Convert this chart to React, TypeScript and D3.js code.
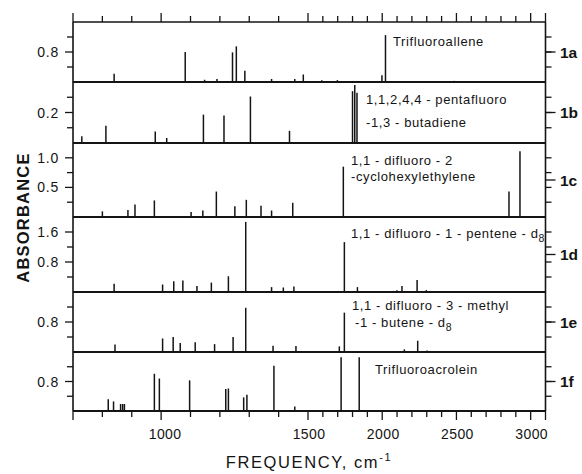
import React from "react";
import * as d3 from "d3";

// ---- data ----
const xTicks = d3.range(700, 3101, 100);
const xLabels = [1000, 1500, 2000, 2500, 3000];
const panelIds = ["1a", "1b", "1c", "1d", "1e", "1f"];
const panelMax = [1.6, 0.4, 1.25, 2.0, 1.6, 1.6];
const yTicksA = [0.4, 0.8, 1.2];
const yTicksB = [0.1, 0.2, 0.3];
const yTicksC = [0.25, 0.5, 0.75, 1.0];
const yTicksD = [0.4, 0.8, 1.2, 1.6];
const yTicksE = [0.4, 0.8, 1.2];
const yTicksF = [0.4, 0.8, 1.2];
const yLabelsA = [0.8];
const yLabelsB = [0.2];
const yLabelsC = [1.0, 0.5];
const yLabelsD = [1.6, 0.8];
const yLabelsE = [0.8];
const yLabelsF = [0.8];

const freq1a = [840, 1082, 1148, 1190, 1243, 1256, 1285, 1376, 1455, 1484, 1593, 1698, 1998, 2022, 2167, 2486];
const abs1a = [0.22, 0.8, 0.06, 0.08, 0.79, 0.95, 0.3, 0.08, 0.08, 0.2, 0.05, 0.05, 0.18, 1.25, 0.03, 0.03];
const freq1b = [730, 812, 980, 1019, 1144, 1214, 1304, 1437, 1800, 1815, 1830];
const abs1b = [0.044, 0.113, 0.076, 0.033, 0.186, 0.18, 0.305, 0.08, 0.34, 0.38, 0.33];
const freq1c = [800, 887, 911, 977, 1102, 1142, 1188, 1251, 1290, 1340, 1376, 1448, 1738, 2854, 2928];
const abs1c = [0.095, 0.12, 0.21, 0.28, 0.085, 0.11, 0.43, 0.18, 0.29, 0.19, 0.11, 0.24, 0.85, 0.43, 1.11];
const freq1d = [840, 1005, 1043, 1074, 1122, 1171, 1229, 1288, 1376, 1416, 1452, 1745, 1833, 2099, 2133, 2235, 2297];
const abs1d = [0.22, 0.2, 0.29, 0.31, 0.16, 0.25, 0.42, 1.87, 0.13, 0.12, 0.15, 1.33, 0.13, 0.05, 0.16, 0.32, 0.05];
const freq1e = [843, 1005, 1041, 1065, 1116, 1182, 1245, 1288, 1381, 1459, 1711, 1745, 2149, 2239, 2302];
const abs1e = [0.2, 0.36, 0.4, 0.24, 0.26, 0.21, 0.4, 1.18, 0.17, 0.16, 0.15, 1.05, 0.07, 0.3, 0.04];
const freq1f = [820, 838, 862, 869, 875, 977, 994, 1097, 1220, 1229, 1281, 1292, 1384, 1455, 1723, 1845];
const abs1f = [0.32, 0.26, 0.19, 0.19, 0.19, 1.01, 0.88, 0.83, 0.6, 0.61, 0.37, 0.44, 1.23, 0.12, 1.46, 1.46];

const compoundLines: string[][] = [
  ["Trifluoroallene"],
  ["1,1,2,4,4 - pentafluoro", "-1,3 - butadiene"],
  ["1,1 - difluoro - 2", "-cyclohexylethylene"],
  ["1,1 - difluoro - 1 - pentene - d|8"],
  ["1,1 - difluoro - 3 - methyl", " -1 - butene - d|8"],
  ["Trifluoroacrolein"],
];

// ---- layout ----
const W = 582, H = 474;
const left = 73, right = 545.5;
const panelTops = [22, 82, 143, 217, 292, 352, 411];
const labelPos = [
  [[393, 46]],
  [[366, 104], [366, 127]],
  [[351, 165], [351, 181]],
  [[351, 238]],
  [[352, 310], [355, 327]],
  [[375, 374]],
];

const ink = "#141414";
const font = "'Liberation Sans', Arial, sans-serif";

const x = d3.scaleLinear().domain([700, 1500, 3100]).range([left, 308, right]);

const freqs = [freq1a, freq1b, freq1c, freq1d, freq1e, freq1f];
const abss = [abs1a, abs1b, abs1c, abs1d, abs1e, abs1f];
const yTicks = [yTicksA, yTicksB, yTicksC, yTicksD, yTicksE, yTicksF];
const yLabels = [yLabelsA, yLabelsB, yLabelsC, yLabelsD, yLabelsE, yLabelsF];

function renderLabel(s: string) {
  const parts = s.split("|");
  if (parts.length === 1) return s;
  return (
    <>
      {parts[0]}
      <tspan dy={4} fontSize={10.5}>{parts[1]}</tspan>
    </>
  );
}

export default function App() {
  const top = panelTops[0];
  const bottom = panelTops[6];
  return (
    <svg width={W} height={H} style={{ position: "absolute", left: 0, top: 0, background: "#fff" }}>
      <rect width={W} height={H} fill="#fff" />
      {/* frame */}
      <line x1={left} x2={right} y1={top} y2={top} stroke={ink} strokeWidth={1.6} />
      <line x1={left} x2={left} y1={top} y2={bottom} stroke={ink} strokeWidth={1.6} />
      <line x1={right} x2={right} y1={top} y2={bottom} stroke={ink} strokeWidth={1.6} />
      {/* x ticks top & bottom */}
      {xTicks.map((t) => {
        const major = xLabels.includes(t) || t === 700 || t === 3100;
        const len = major ? 9 : 6;
        return (
          <g key={t}>
            <line x1={x(t)} x2={x(t)} y1={top} y2={top - len} stroke={ink} strokeWidth={1.3} />
            <line x1={x(t)} x2={x(t)} y1={bottom} y2={bottom + len} stroke={ink} strokeWidth={1.3} />
          </g>
        );
      })}
      {xLabels.map((t) => (
        <text key={t} x={x(t) + (t === 1000 ? 4 : 1)} y={439} fontSize={14} fontFamily={font} textAnchor="middle" fill={ink} letterSpacing={0.4}>
          {t}
        </text>
      ))}
      {panelIds.map((id, i) => {
        const y0 = panelTops[i + 1];
        const y1 = panelTops[i];
        const y = d3.scaleLinear().domain([0, panelMax[i]]).range([y0, y1]);
        const mid = (y0 + y1) / 2;
        return (
          <g key={id}>
            <line x1={left} x2={right} y1={y0} y2={y0} stroke={ink} strokeWidth={1.8} />
            {freqs[i].map((f, j) => (
              <line key={j} x1={x(f)} x2={x(f)} y1={y0} y2={y(abss[i][j])} stroke={ink} strokeWidth={1.5} />
            ))}
            {yTicks[i].map((t) => (
              <g key={t}>
                <line x1={left} x2={left - (yLabels[i].includes(t) ? 8 : 6)} y1={y(t)} y2={y(t)} stroke={ink} strokeWidth={1.3} />
                <line x1={right} x2={right + 6} y1={y(t)} y2={y(t)} stroke={ink} strokeWidth={1.3} />
              </g>
            ))}
            <line x1={right} x2={right + 10} y1={mid} y2={mid} stroke={ink} strokeWidth={1.3} />
            {yLabels[i].map((t) => (
              <text key={t} x={59} y={y(t) + 5} fontSize={14} fontFamily={font} textAnchor="end" fill={ink} letterSpacing={0.8}>
                {t.toFixed(1)}
              </text>
            ))}
            <text x={560} y={mid + 5.5} fontSize={15.5} fontWeight="bold" fontFamily={font} fill={ink}>
              {id}
            </text>
            {compoundLines[i].map((s, k) => (
              <text key={k} x={labelPos[i][k][0]} y={labelPos[i][k][1]} fontSize={13} fontFamily={font} fill={ink} letterSpacing={0.6}>
                {renderLabel(s)}
              </text>
            ))}
          </g>
        );
      })}
      {/* axis titles */}
      <text x={309} y={468} fontSize={16.5} fontFamily={font} textAnchor="middle" fill={ink} letterSpacing={1.6}>
        FREQUENCY, cm<tspan dy={-7} fontSize={11}>-1</tspan>
      </text>
      <text
        transform={`translate(29,217.5) rotate(-90)`}
        fontSize={16.5}
        fontWeight="bold"
        fontFamily={font}
        textAnchor="middle"
        fill={ink}
        letterSpacing={1.2}
      >
        ABSORBANCE
      </text>
    </svg>
  );
}
